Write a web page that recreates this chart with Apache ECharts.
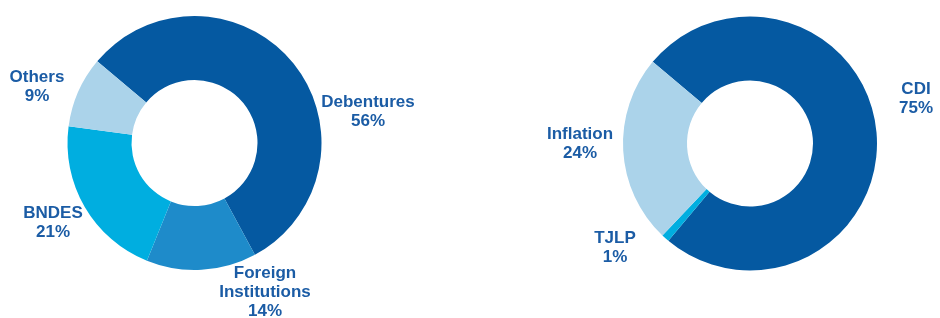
<!DOCTYPE html>
<html>
<head>
<meta charset="utf-8">
<script src="https://cdn.jsdelivr.net/npm/echarts@6/dist/echarts.min.js"></script>
<style>
  html, body { margin: 0; padding: 0; background: #fff; }
  #chart { width: 940px; height: 318px; }
</style>
</head>
<body>
<div id="chart"></div>
<script>
// left donut: funding sources
var sourceNames = ['Debentures', 'Foreign\nInstitutions', 'BNDES', 'Others']
var sourceValues = [56, 14, 21, 9]
// right donut: indexers
var indexNames = ['CDI', 'TJLP', 'Inflation']
var indexValues = [75, 1, 24]

var sourceColors = ['#0559a1', '#1e8bca', '#00aee0', '#abd3ea']
var indexColors = ['#0559a1', '#00aee0', '#abd3ea']

// label anchor points (centre of each text block)
var sourceLabelPos = [[368, 112], [265, 292], [53, 223], [37, 87]]
var indexLabelPos = [[916, 99], [615, 248], [580, 144]]

function toData (names, values, colors) {
  return names.map(function (n, i) {
    return { name: n, value: values[i], itemStyle: { color: colors[i] } }
  })
}

function donut (center, names, values, colors, labelPos) {
  return {
    type: 'pie',
    center: center,
    radius: [63, 127],
    startAngle: 140,
    clockwise: true,
    avoidLabelOverlap: false,
    silent: true,
    itemStyle: { borderWidth: 0 },
    label: {
      show: true,
      position: 'outside',
      formatter: '{b}\n{c}%',
      color: '#1b5ca5',
      fontFamily: 'Liberation Sans, Arial, sans-serif',
      fontWeight: 'bold',
      fontSize: 17,
      lineHeight: 19,
      align: 'center'
    },
    labelLine: { show: false },
    labelLayout: function (p) {
      var pos = labelPos[p.dataIndex]
      return { x: pos[0], y: pos[1], align: 'center', verticalAlign: 'middle' }
    },
    data: toData(names, values, colors)
  }
}

var myChart = echarts.init(document.getElementById('chart'))
myChart.setOption({
  animation: false,
  series: [
    donut([194.5, 143], sourceNames, sourceValues, sourceColors, sourceLabelPos),
    donut([750, 143.5], indexNames, indexValues, indexColors, indexLabelPos)
  ]
})
</script>
</body>
</html>
